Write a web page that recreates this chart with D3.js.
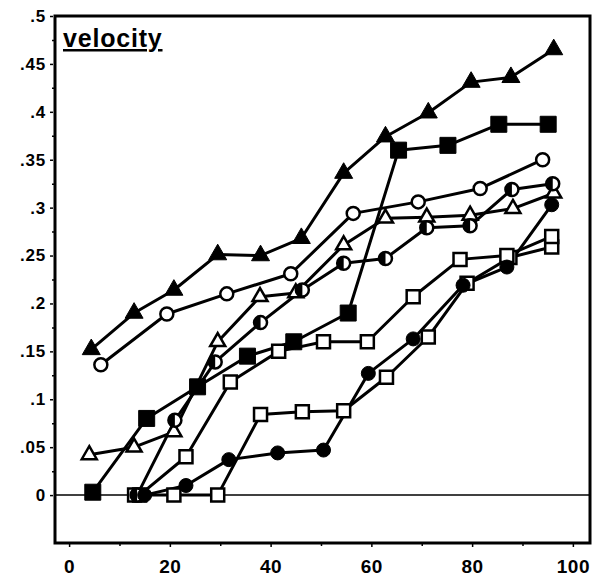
<!DOCTYPE html>
<html>
<head>
<meta charset="utf-8">
<script src="https://cdn.jsdelivr.net/npm/d3@7"></script>
<style>
  html, body { margin: 0; padding: 0; background: #fff; }
  svg { display: block; font-family: "Liberation Sans", Arial, Helvetica, sans-serif; }
</style>
</head>
<body>
<svg id="chart" width="604" height="580"></svg>
<script>
// tick labels
const xTicks = [0, 20, 40, 60, 80, 100];
const xMinorTicks = [10, 30, 50, 70, 90];
const yTicks = [0, 0.05, 0.1, 0.15, 0.2, 0.25, 0.3, 0.35, 0.4, 0.45, 0.5];
const yMinorTicks = [0.025, 0.075, 0.125, 0.175, 0.225, 0.275, 0.325, 0.375, 0.425, 0.475];

// series values
const triFilledX = [4.4, 12.9, 20.8, 29.5, 38, 46.1, 54.5, 62.8, 71.3, 79.8, 87.7, 96.2];
const triFilledY = [0.152, 0.19, 0.214, 0.251, 0.25, 0.268, 0.336, 0.374, 0.399, 0.431, 0.436, 0.465];

const circOpenX = [6.3, 19.4, 31.3, 44, 56.4, 69.3, 81.6, 94];
const circOpenY = [0.136, 0.189, 0.21, 0.231, 0.294, 0.306, 0.32, 0.35];

const sqFilledX = [4.7, 15.4, 25.5, 35.4, 44.6, 55.4, 65.4, 75.2, 85.3, 95.1];
const sqFilledY = [0.003, 0.08, 0.113, 0.145, 0.16, 0.19, 0.36, 0.365, 0.387, 0.387];

const triOpenX = [4, 12.9, 20.8, 29.5, 37.9, 45, 54.5, 62.8, 71, 79.6, 88.1, 96.2];
const triOpenY = [0.042, 0.05, 0.066, 0.16, 0.207, 0.211, 0.261, 0.289, 0.29, 0.292, 0.299, 0.315];

const circHalfX = [13.5, 21, 29, 38, 46.3, 54.5, 62.8, 71, 79.6, 87.9, 96];
const circHalfY = [0, 0.078, 0.139, 0.18, 0.214, 0.242, 0.247, 0.279, 0.281, 0.319, 0.325];

const sqOpenAX = [14, 23.2, 32, 41.6, 50.5, 59.2, 68.3, 77.6, 86.9, 95.8];
const sqOpenAY = [0, 0.04, 0.118, 0.15, 0.16, 0.16, 0.207, 0.246, 0.25, 0.27];

const circFilledX = [15, 23.2, 31.7, 41.4, 50.5, 59.4, 68.3, 78.2, 86.9, 95.8];
const circFilledY = [0, 0.01, 0.037, 0.044, 0.047, 0.127, 0.163, 0.219, 0.238, 0.303];

const sqOpenBX = [13, 20.8, 29.5, 38, 46.3, 54.5, 63, 71.3, 79, 87.5, 95.8];
const sqOpenBY = [0, 0, 0, 0.084, 0.087, 0.088, 0.123, 0.165, 0.221, 0.248, 0.259];

const zip = (xs, ys) => xs.map((x, i) => ({ x, y: ys[i] }));

// draw order: open ones first, filled ones on top
const series = [
  { pts: zip(sqOpenBX, sqOpenBY), marker: "square", fill: "#fff", size: 13 },
  { pts: zip(sqOpenAX, sqOpenAY), marker: "square", fill: "#fff", size: 13 },
  { pts: zip(triOpenX, triOpenY), marker: "triangle", fill: "#fff", size: 15 },
  { pts: zip(circOpenX, circOpenY), marker: "circle", fill: "#fff", size: 13 },
  { pts: zip(circHalfX, circHalfY), marker: "half", fill: "#000", size: 13 },
  { pts: zip(circFilledX, circFilledY), marker: "circle", fill: "#000", size: 14 },
  { pts: zip(sqFilledX, sqFilledY), marker: "square", fill: "#000", size: 16 },
  { pts: zip(triFilledX, triFilledY), marker: "triangle", fill: "#000", size: 18 }
];

const svg = d3.select("#chart");
const frame = { left: 55, top: 16, right: 590, bottom: 543 };

const x = d3.scaleLinear().domain([-2.8, 103.4]).range([frame.left, frame.right]);
const y = d3.scaleLinear().domain([-0.05, 0.5]).range([frame.bottom, frame.top]);

const fmtY = d => d === 0 ? "0" : String(d).replace(/^0/, "");

// y axis: major and minor ticks outside the frame
const yAxis = svg.append("g").attr("transform", `translate(${frame.left - 2},0)`)
  .call(d3.axisLeft(y).tickValues(yTicks).tickSize(3).tickPadding(4).tickFormat(fmtY));
yAxis.select(".domain").remove();
yAxis.selectAll(".tick line").attr("stroke", "#000").attr("stroke-width", 1.5);
yAxis.selectAll(".tick text").attr("fill", "#000").attr("font-size", 17)
  .attr("font-weight", "bold").attr("letter-spacing", "0.8px");

const yMinor = svg.append("g").attr("transform", `translate(${frame.left - 1},0)`)
  .call(d3.axisLeft(y).tickValues(yMinorTicks).tickSize(2).tickFormat(""));
yMinor.select(".domain").remove();
yMinor.selectAll(".tick line").attr("stroke", "#000").attr("stroke-width", 1.5);

// x axis
const xAxis = svg.append("g").attr("transform", `translate(0,${frame.bottom + 1})`)
  .call(d3.axisBottom(x).tickValues(xTicks).tickSize(3).tickPadding(13).tickFormat(d => d));
xAxis.select(".domain").remove();
xAxis.selectAll(".tick line").attr("stroke", "#000").attr("stroke-width", 1.5);
xAxis.selectAll(".tick text").attr("fill", "#000").attr("font-size", 19)
  .attr("font-weight", "bold").attr("letter-spacing", "0.5px");

const xMinor = svg.append("g").attr("transform", `translate(0,${frame.bottom + 1})`)
  .call(d3.axisBottom(x).tickValues(xMinorTicks).tickSize(2).tickFormat(""));
xMinor.select(".domain").remove();
xMinor.selectAll(".tick line").attr("stroke", "#000").attr("stroke-width", 1.5);

// frame
svg.append("rect")
  .attr("x", frame.left).attr("y", frame.top)
  .attr("width", frame.right - frame.left).attr("height", frame.bottom - frame.top)
  .attr("fill", "none").attr("stroke", "#000").attr("stroke-width", 3);

// zero line
svg.append("line")
  .attr("x1", frame.left).attr("x2", frame.right)
  .attr("y1", y(0)).attr("y2", y(0))
  .attr("stroke", "#000").attr("stroke-width", 1.5);

// title inside the frame
svg.append("text")
  .attr("x", 63).attr("y", 47)
  .attr("font-size", 25).attr("font-weight", "bold")
  .attr("letter-spacing", "0.8px")
  .attr("text-decoration", "underline")
  .text("velocity");

const line = d3.line().x(d => x(d.x)).y(d => y(d.y));

// lines first, then markers
series.forEach(s => {
  svg.append("path").datum(s.pts)
    .attr("d", line)
    .attr("fill", "none").attr("stroke", "#000")
    .attr("stroke-width", 3).attr("stroke-linejoin", "round");
});

function markerPath(type, size) {
  if (type === "square") return d3.symbol(d3.symbolSquare, size * size)();
  if (type === "triangle") return d3.symbol(d3.symbolTriangle, size * size * 0.433)();
  return d3.symbol(d3.symbolCircle, Math.PI * size * size / 4)();
}

series.forEach(s => {
  const g = svg.append("g");
  const m = g.selectAll("g").data(s.pts).enter().append("g")
    .attr("transform", d => `translate(${x(d.x)},${y(d.y)})`);
  if (s.marker === "half") {
    const r = s.size / 2;
    m.append("circle").attr("r", r).attr("fill", "#fff");
    m.append("path")
      .attr("d", `M0,${-r}A${r},${r} 0 0 0 0,${r}Z`)
      .attr("fill", "#000");
    m.append("circle").attr("r", r).attr("fill", "none")
      .attr("stroke", "#000").attr("stroke-width", 2.5);
  } else {
    m.append("path")
      .attr("d", markerPath(s.marker, s.size))
      .attr("fill", s.fill)
      .attr("stroke", "#000").attr("stroke-width", s.fill === "#fff" ? 2.5 : 1);
  }
});
</script>
</body>
</html>
